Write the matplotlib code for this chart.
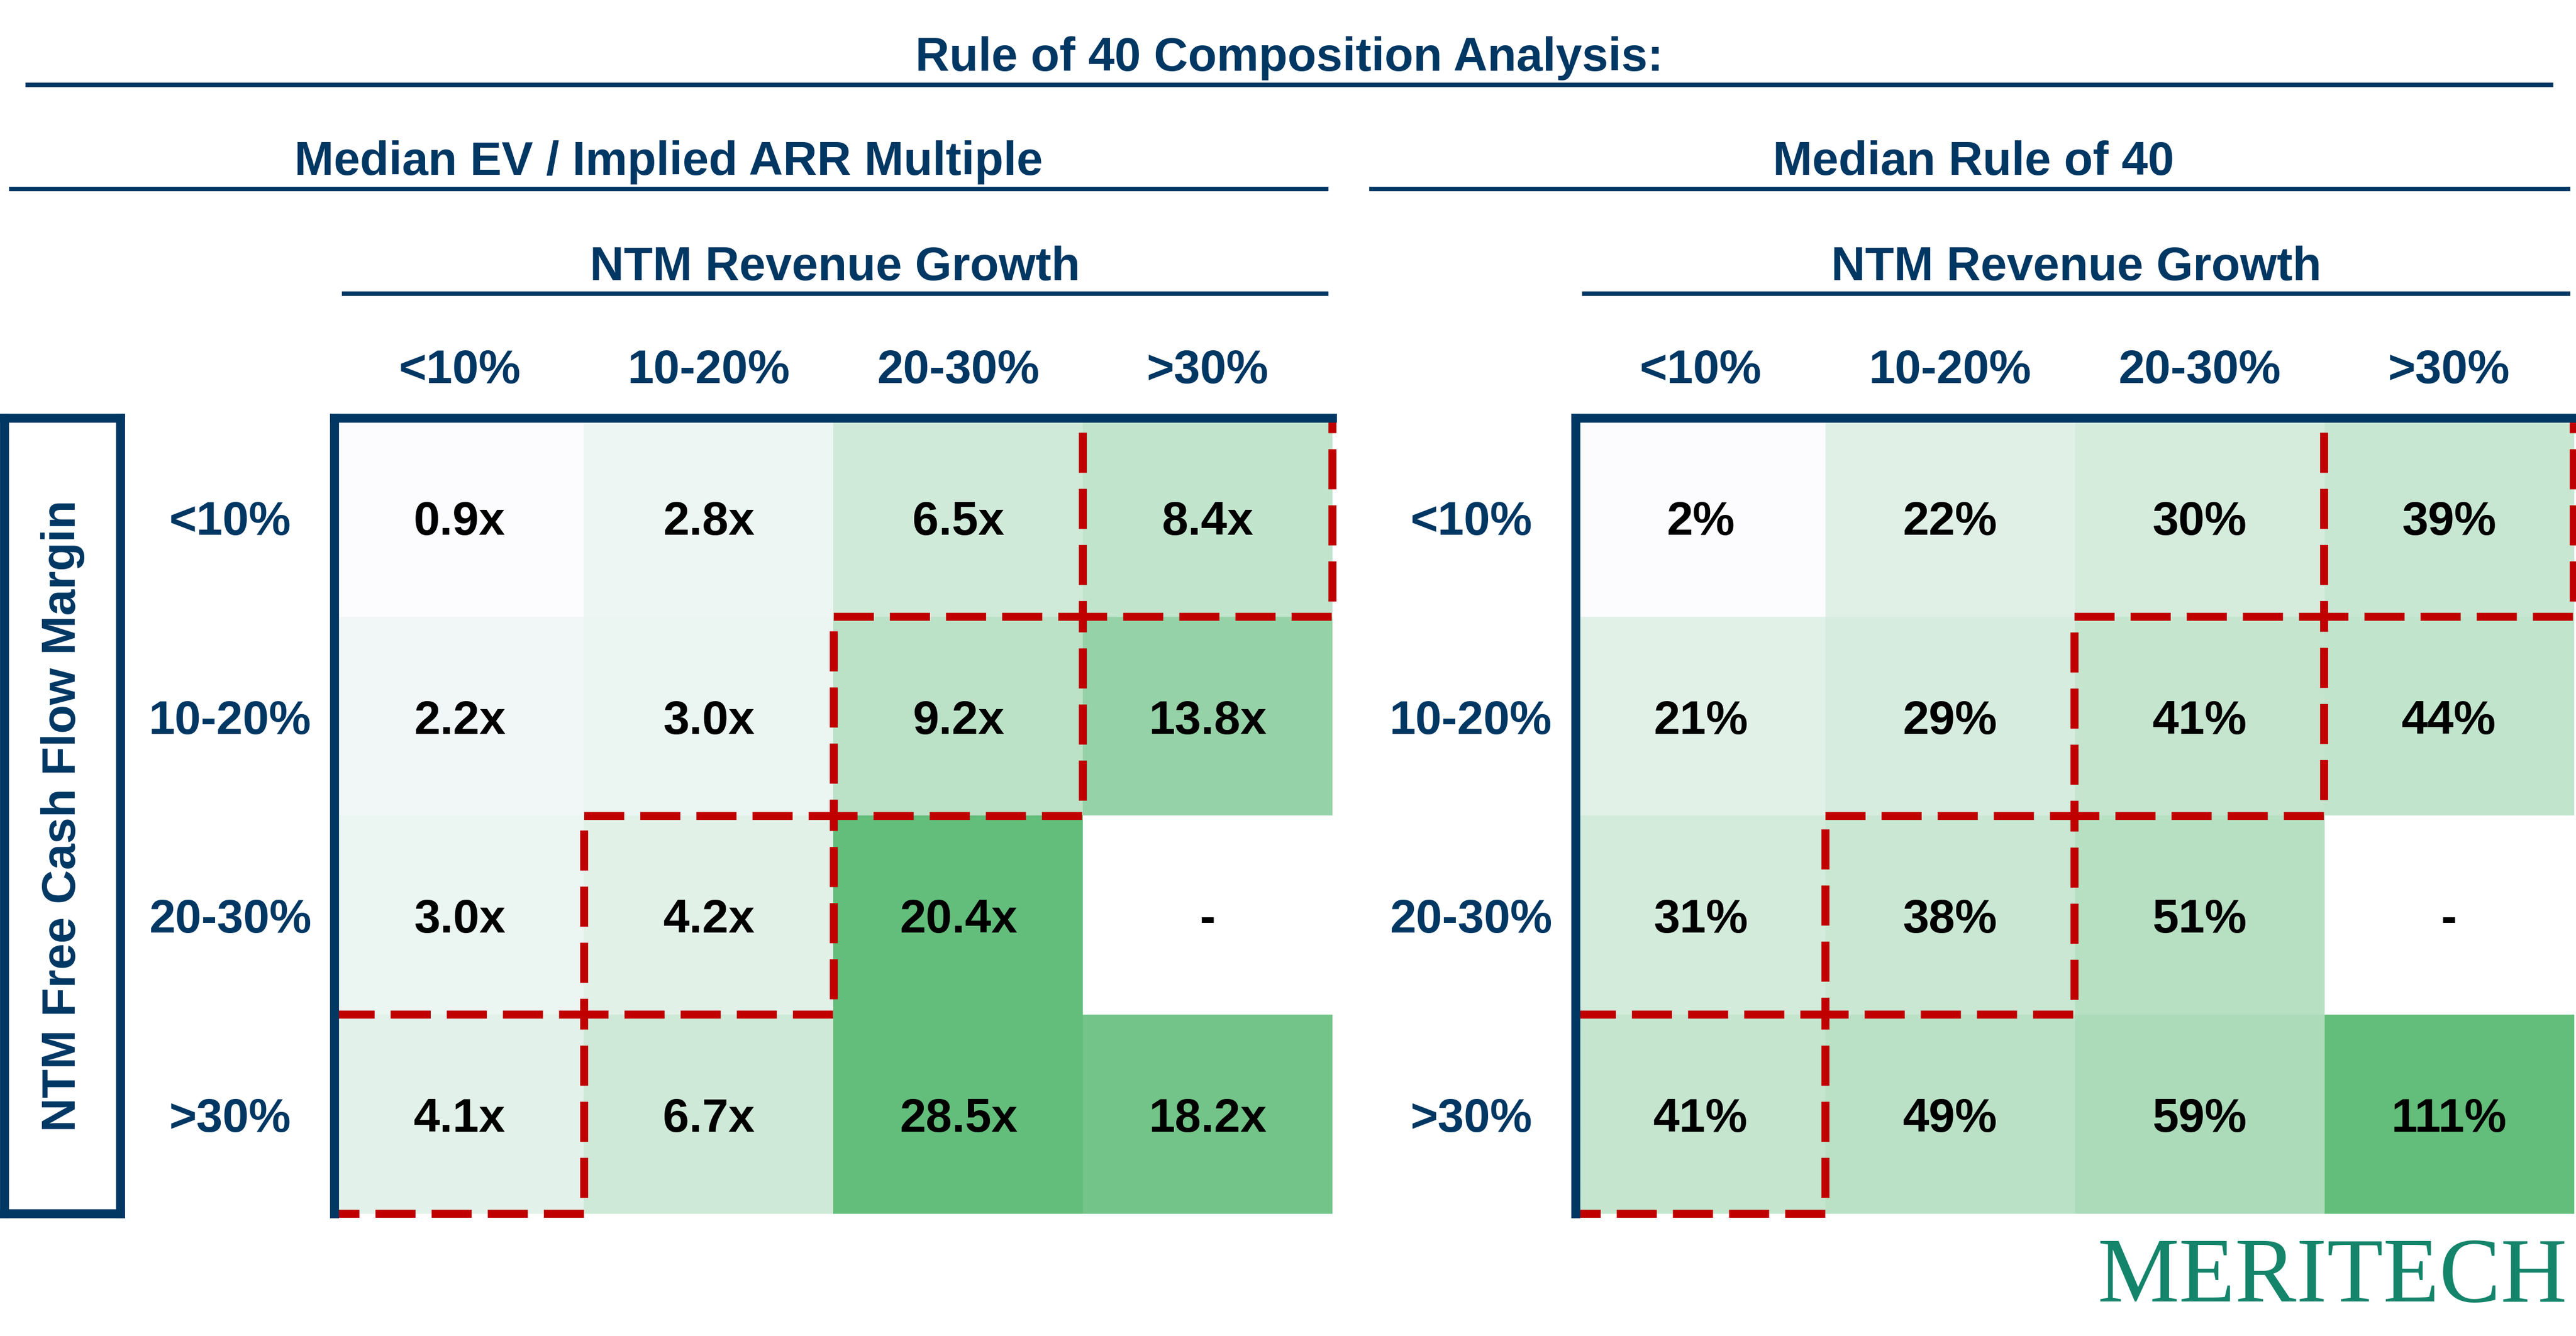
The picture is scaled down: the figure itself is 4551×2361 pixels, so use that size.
import numpy as np
import matplotlib
matplotlib.use("Agg")
import matplotlib.pyplot as plt
from matplotlib.colors import LinearSegmentedColormap, Normalize
from matplotlib.patches import Rectangle
from matplotlib.lines import Line2D

plt.rcParams['font.family'] = ['Liberation Sans', 'DejaVu Sans']
plt.rcParams['font.weight'] = 'bold'

# data
growth_buckets = ["<10%", "10-20%", "20-30%", ">30%"]   # columns: NTM revenue growth
fcf_buckets = ["<10%", "10-20%", "20-30%", ">30%"]      # rows: NTM FCF margin

ev_arr_multiple = [
    [0.9, 2.8, 6.5, 8.4],
    [2.2, 3.0, 9.2, 13.8],
    [3.0, 4.2, 20.4, np.nan],
    [4.1, 6.7, 28.5, 18.2],
]
rule_of_40 = [
    [2, 22, 30, 39],
    [21, 29, 41, 44],
    [31, 38, 51, np.nan],
    [41, 49, 59, 111],
]
# cells boxed in red (row, col)
highlight = [(0, 3), (1, 2), (2, 1), (3, 0)]

NAVY = '#003763'
RED = '#C00000'
LOGO = '#14846A'
cmap = LinearSegmentedColormap.from_list('excel_green', ['#FCFCFF', '#63BE7B'])
cmap.set_bad('white')


def draw_grid(ax, vals, fmt, vmax):
    data = np.array(vals, dtype=float)
    norm = Normalize(vmin=np.nanmin(data), vmax=vmax, clip=True)
    ax.imshow(np.ma.masked_invalid(data), cmap=cmap, norm=norm,
              aspect='auto', interpolation='nearest')
    for i in range(data.shape[0]):
        for j in range(data.shape[1]):
            v = data[i, j]
            txt = "-" if np.isnan(v) else fmt.format(v)
            ax.text(j, i, txt, ha='center', va='center_baseline',
                    fontsize=20, color='black')
    for r, c in highlight:
        ax.add_patch(Rectangle((c - 0.5, r - 0.5), 1, 1, fill=False, ec=RED,
                               lw=3.4, ls=(0, (5, 2)), clip_on=False, zorder=3))
    ax.xaxis.tick_top()
    ax.set_xticks(range(len(growth_buckets)), growth_buckets)
    ax.set_yticks(range(len(fcf_buckets)), fcf_buckets)
    ax.tick_params(length=0, labelsize=20, labelcolor=NAVY)
    ax.tick_params(axis='x', pad=14.9)
    ax.tick_params(axis='y', pad=44.4)
    for lbl in ax.get_xticklabels():
        lbl.set_va('baseline')
    for lbl in ax.get_yticklabels():
        lbl.set_ha('center')
        lbl.set_va('center_baseline')
    for s in ['right', 'bottom']:
        ax.spines[s].set_visible(False)
    for s in ['top', 'left']:
        ax.spines[s].set_color(NAVY)
        ax.spines[s].set_linewidth(3.8)
        ax.spines[s].set_zorder(4)


fig = plt.figure(figsize=(15.17, 7.87), dpi=300)

ax_l = fig.add_axes([0.12997, 0.0915, 0.3873, 0.5955])
draw_grid(ax_l, ev_arr_multiple, "{:.1f}x", vmax=20.4)
ax_r = fig.add_axes([0.6117, 0.0915, 0.3874, 0.5955])
draw_grid(ax_r, rule_of_40, "{:.0f}%", vmax=np.nanmax(np.array(rule_of_40, dtype=float)))

# boxed row-axis title
ax_box = fig.add_axes([0.00176, 0.0915, 0.04505, 0.5955])
ax_box.set_xticks([])
ax_box.set_yticks([])
for s in ax_box.spines.values():
    s.set_color(NAVY)
    s.set_linewidth(3.8)
ax_box.text(0.5, 0.5, "NTM Free Cash Flow Margin", rotation=90, ha='center',
            va='center', fontsize=20, color=NAVY, transform=ax_box.transAxes)

# headings with rules underneath
def heading(x0, x1, y_line, y_text, label, xc=None):
    fig.add_artist(Line2D([x0, x1], [y_line, y_line], transform=fig.transFigure,
                          color=NAVY, lw=1.9))
    if xc is None:
        xc = (x0 + x1) / 2
    fig.text(xc, y_text, label, ha='center', va='baseline', fontsize=20, color=NAVY)


heading(0.0108, 0.9903, 0.9365, 0.9471, "Rule of 40 Composition Analysis:")
heading(0.0044, 0.5148, 0.8585, 0.8692, "Median EV / Implied ARR Multiple")
heading(0.5324, 0.9969, 0.8585, 0.8692, "Median Rule of 40", xc=0.766)
heading(0.1336, 0.5148, 0.7803, 0.7905, "NTM Revenue Growth")
heading(0.6150, 0.9969, 0.7803, 0.7905, "NTM Revenue Growth")

fig.text(0.9053, 0.0258, "MERITECH", family=['Liberation Serif', 'DejaVu Serif'],
         fontsize=39, weight='normal', color=LOGO, ha='center', va='baseline')

fig.savefig("out.png", dpi=300, facecolor='white')
